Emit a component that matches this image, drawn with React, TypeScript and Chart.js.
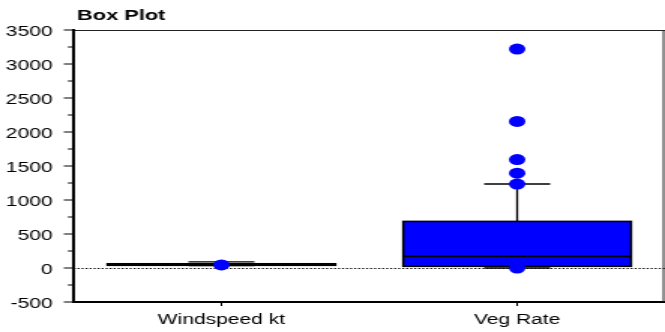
import React, { useEffect, useRef } from 'react';
import { Chart, registerables } from 'chart.js';

Chart.register(...registerables);

// ---- data ----
const categories = ['Windspeed kt', 'Veg Rate'];
const lowerWhisker = [35, 0];
const q1 = [40, 25];
const median = [50, 170];
const q3 = [62, 685];
const upperWhisker = [90, 1235];
const pointCategories = ['Windspeed kt', 'Veg Rate', 'Veg Rate', 'Veg Rate', 'Veg Rate', 'Veg Rate', 'Veg Rate'];
const pointValues = [45, 0, 1235, 1395, 1595, 2155, 3220];
const yMin = -500;
const yMax = 3500;
const yMajorStep = 500;
const yMinorStep = 250;
const chartTitle = 'Box Plot';

// ---- render geometry (the picture is stretched horizontally) ----
const OUT_W = 665;
const OUT_H = 332;
const SX = 1.5;
const W = Math.round(OUT_W / SX);
const FONT = '"Liberation Sans", Arial, sans-serif';
const BLUE = '#0000FF';

const boxPlotPlugin = {
  id: 'boxPlotDraw',
  beforeDatasetsDraw(chart: any) {
    const { ctx, chartArea, scales } = chart;
    const y0 = Math.round(scales.y.getPixelForValue(0)) + 0.5;
    ctx.save();
    ctx.strokeStyle = '#000';
    ctx.lineWidth = 1;
    ctx.setLineDash([1.3, 1.37]);
    ctx.beginPath();
    ctx.moveTo(chartArea.left, y0);
    ctx.lineTo(chartArea.right, y0);
    ctx.stroke();
    ctx.restore();
  },
  afterDatasetDraw(chart: any, args: any) {
    if (args.meta.type !== 'bar') return;
    const { ctx, scales } = chart;
    const ys = scales.y;
    ctx.save();
    ctx.strokeStyle = '#000';
    args.meta.data.forEach((el: any, i: number) => {
      const { x, width } = el.getProps(['x', 'width'], true);
      const left = x - width / 2;
      const top = ys.getPixelForValue(q3[i]);
      const bottom = ys.getPixelForValue(q1[i]);
      const capHalf = width * 0.145;
      const yHi = ys.getPixelForValue(upperWhisker[i]);
      const yLo = ys.getPixelForValue(lowerWhisker[i]);
      // whiskers
      ctx.lineWidth = 1.3;
      ctx.beginPath();
      ctx.moveTo(x, top);
      ctx.lineTo(x, yHi);
      ctx.moveTo(x - capHalf, yHi);
      ctx.lineTo(x + capHalf, yHi);
      ctx.moveTo(x, bottom);
      ctx.lineTo(x, yLo);
      ctx.moveTo(x - capHalf, yLo);
      ctx.lineTo(x + capHalf, yLo);
      ctx.stroke();
      // box outline
      ctx.lineWidth = 1.6;
      ctx.strokeRect(left, top, width, bottom - top);
      // median
      const ym = ys.getPixelForValue(median[i]);
      ctx.lineWidth = 1.8;
      ctx.beginPath();
      ctx.moveTo(left, ym);
      ctx.lineTo(left + width, ym);
      ctx.stroke();
    });
    ctx.restore();
  },
  afterDraw(chart: any) {
    const { ctx, chartArea, scales } = chart;
    const ys = scales.y;
    const xs = scales.x;
    ctx.save();
    // frame top and right
    ctx.strokeStyle = '#222';
    ctx.lineWidth = 1;
    ctx.beginPath();
    ctx.moveTo(chartArea.left, chartArea.top + 0.5);
    ctx.lineTo(chartArea.right, chartArea.top + 0.5);
    ctx.moveTo(chartArea.right - 1, chartArea.top);
    ctx.lineTo(chartArea.right - 1, chartArea.bottom);
    ctx.stroke();
    // left axis line (solid black)
    ctx.fillStyle = '#000';
    const axL = Math.round(chartArea.left) - 1;
    ctx.fillRect(axL, Math.round(chartArea.top), 2, Math.round(chartArea.bottom - chartArea.top) + 1);
    // y tick marks
    ctx.strokeStyle = '#000';
    ctx.lineWidth = 1.2;
    ctx.beginPath();
    ys.ticks.forEach((t: any) => {
      const py = ys.getPixelForValue(t.value);
      const len = t.value % yMajorStep === 0 ? 5.5 : 2.8;
      ctx.moveTo(axL - len, py);
      ctx.lineTo(axL, py);
    });
    // x tick marks
    ctx.lineWidth = 1;
    categories.forEach((_c, i) => {
      const px = xs.getPixelForValue(i);
      ctx.moveTo(px, chartArea.bottom);
      ctx.lineTo(px, chartArea.bottom + 4);
    });
    ctx.stroke();
    // title
    ctx.fillStyle = '#000';
    ctx.font = `bold 14.5px ${FONT}`;
    ctx.textAlign = 'left';
    ctx.textBaseline = 'alphabetic';
    ctx.fillText(chartTitle, chartArea.left + 2.3, 19.5);
    ctx.restore();
  },
};

export default function App() {
  const canvasRef = useRef<HTMLCanvasElement | null>(null);

  useEffect(() => {
    const canvas = canvasRef.current;
    if (!canvas) return;
    const chart = new Chart(canvas, {
      type: 'bar',
      data: {
        labels: categories,
        datasets: [
          {
            type: 'line',
            order: 0,
            data: pointCategories.map((c, i) => ({ x: c, y: pointValues[i] })),
            showLine: false,
            pointRadius: 5.5,
            pointHoverRadius: 5.5,
            pointBackgroundColor: BLUE,
            pointBorderWidth: 0,
            borderColor: BLUE,
            backgroundColor: BLUE,
          } as any,
          {
            type: 'bar',
            order: 1,
            data: categories.map((_c, i) => [q1[i], q3[i]]),
            backgroundColor: BLUE,
            borderWidth: 0,
            barPercentage: 0.77,
            categoryPercentage: 1,
          } as any,
        ],
      },
      options: {
        animation: false,
        responsive: false,
        devicePixelRatio: 1,
        layout: { autoPadding: false, padding: { top: 30, right: 0, left: 0, bottom: 0 } },
        plugins: {
          legend: { display: false },
          tooltip: { enabled: false },
          title: { display: false },
        },
        events: [],
        scales: {
          x: {
            type: 'category',
            offset: true,
            grid: { display: false, drawTicks: false },
            border: { display: true, color: '#000', width: 2 },
            ticks: {
              font: { family: FONT, size: 14 },
              color: '#000',
              padding: 10,
              maxRotation: 0,
              autoSkip: false,
            },
            afterFit: (s: any) => {
              s.height = 30;
              s.paddingLeft = 0;
              s.paddingRight = 0;
            },
          },
          y: {
            type: 'linear',
            min: yMin,
            max: yMax,
            grid: { display: false, drawTicks: false },
            border: { display: true, color: '#000', width: 2 },
            ticks: {
              stepSize: yMinorStep,
              autoSkip: false,
              font: { family: FONT, size: 14 },
              color: '#000',
              padding: 14,
              labelOffset: 2,
              callback: (v: any) => (Number(v) % yMajorStep === 0 ? String(v) : ''),
            },
            afterFit: (s: any) => {
              s.width = 49;
              s.paddingTop = 0;
              s.paddingBottom = 0;
            },
          },
        },
      } as any,
      plugins: [boxPlotPlugin],
    });
    return () => chart.destroy();
  }, []);

  return (
    <div style={{ position: 'fixed', left: 0, top: 0, width: OUT_W, height: OUT_H, background: '#fff' }}>
      <canvas
        ref={canvasRef}
        width={W}
        height={OUT_H}
        style={{ width: `${OUT_W}px`, height: `${OUT_H}px`, display: 'block' }}
      />
    </div>
  );
}
